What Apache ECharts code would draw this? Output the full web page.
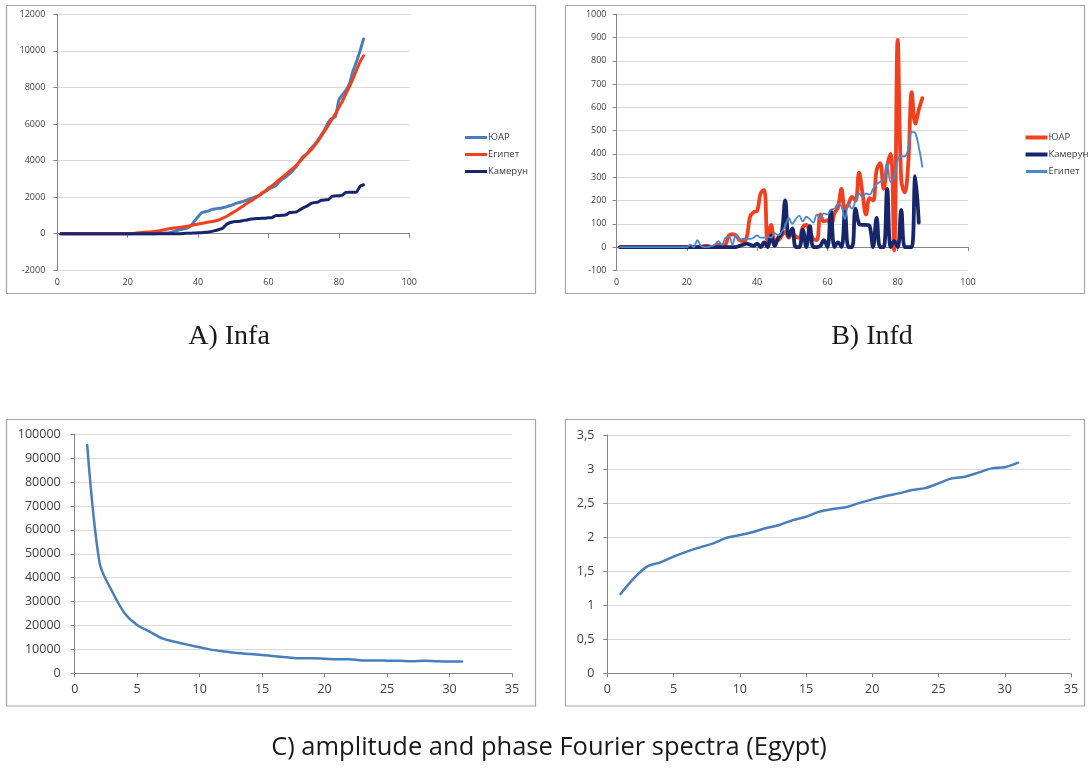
<!DOCTYPE html>
<html><head><meta charset="utf-8">
<script src="https://cdn.jsdelivr.net/npm/echarts@6/dist/echarts.min.js"></script>
<style>html,body{margin:0;padding:0;background:#fff}#c{width:1090px;height:769px}</style>
</head><body><div id="c"></div>
<script>
// ---------- DATA ----------
const days = [];
for (let d = 1; d <= 87; d++) days.push(d);

// A) Infa: cumulative infections
const infaSA = [0,0,0,0,0,0,0,0,0,0,0,0,0,0,0,0,0,0,0,0,0,0,0,0,0,0,0,
  5,10,20,40,60,120,180,230,270,320,450,700,930,1150,1200,1250,1330,1360,1390,1420,
  1470,1530,1600,1670,1720,1780,1850,1930,2000,2060,2180,2300,2420,2530,2620,2830,
  3000,3120,3280,3480,3700,4000,4250,4400,4650,4850,5100,5400,5700,6100,6300,6400,
  7300,7600,7850,8200,8900,9400,10000,10650];
const infaEG = [0,0,0,0,0,0,0,0,0,0,0,0,0,0,0,0,0,0,0,0,
  5,20,50,70,85,95,105,130,160,200,
  250,280,310,330,360,385,410,450,490,530,
  560,600,640,670,710,760,850,940,1050,1170,
  1290,1420,1540,1680,1790,1920,2050,2200,2340,2490,
  2630,2780,2950,3100,3260,3420,3590,3760,3970,4180,
  4380,4560,4800,5050,5340,5640,5930,6250,6550,6900,
  7250,7650,8050,8480,8950,9400,9730];
const infaCM = [0,0,0,0,0,0,0,0,0,0,0,0,0,0,0,0,0,0,0,0,0,0,0,0,0,0,0,0,0,0,0,0,0,0,
  5,15,25,30,40,50,
  60,75,95,130,180,230,300,500,600,660,
  670,680,730,750,800,820,830,840,850,870,
  880,990,1000,1010,1030,1160,1170,1200,1320,1430,
  1520,1650,1700,1730,1830,1850,1860,2050,2070,2080,
  2110,2260,2270,2270,2280,2590,2680];

// B) Infd: daily new infections
const infdSA = [0,0,0,0,0,0,0,0,0,0,0,0,0,0,0,0,0,0,0,0,
  0,0,0,0,5,5,0,5,10,5,
  10,50,55,50,30,25,40,130,150,155,
  230,245,20,95,30,30,50,65,40,60,
  45,40,85,95,65,35,30,140,110,115,
  90,145,170,250,160,185,215,200,320,230,
  140,210,200,330,360,250,350,400,-15,890,
  290,235,360,665,530,590,640];
const infdCM = [0,0,0,0,0,0,0,0,0,0,0,0,0,0,0,0,0,0,0,0,
  0,0,0,0,0,0,0,0,0,0,
  0,0,0,0,5,10,15,10,5,15,
  0,20,0,50,5,40,60,200,45,80,
  0,0,75,0,90,0,0,5,30,0,
  155,0,20,0,150,0,0,165,100,95,
  95,90,0,125,0,0,250,0,25,0,
  160,0,0,0,305,105];
const infdEG = [0,0,0,0,0,0,0,0,0,0,0,0,0,0,0,0,0,0,0,0,
  10,0,30,5,0,0,5,10,25,10,
  40,45,10,55,30,35,35,35,40,50,
  40,40,45,40,60,50,65,90,125,100,
  120,135,110,130,120,105,140,120,145,140,
  160,165,185,175,120,185,165,200,230,215,
  230,225,250,270,280,290,360,280,300,375,
  390,390,420,495,490,430,345];

// C) Fourier spectra (Egypt)
const harmonics = [1,2,3,4,5,6,7,8,9,10,11,12,13,14,15,16,17,18,19,20,21,22,23,24,25,26,27,28,29,30,31];
const amplitude = [95500,46000,34200,25100,20200,17400,14600,13200,12000,10900,9800,9100,8500,8100,7700,
  7100,6700,6300,6300,6100,5900,5900,5400,5400,5300,5200,5000,5300,5000,4900,4900];
const phase = [1.165,1.395,1.566,1.63,1.713,1.787,1.85,1.909,1.99,2.03,2.075,2.134,2.178,2.25,2.30,
  2.374,2.413,2.44,2.50,2.555,2.604,2.643,2.692,2.72,2.79,2.863,2.888,2.947,3.01,3.025,3.093];

const legendA = ['ЮАР','Египет','Камерун'];
const legendB = ['ЮАР','Камерун','Египет'];
const captionA = 'A) Infa';
const captionB = 'B) Infd';
const captionC = 'C) amplitude and phase Fourier spectra (Egypt)';

// ---------- STYLE ----------
const FONT = '"Open Sans", sans-serif';
const LBL = '#404040';
const AXC = '#868686';
const GRID = '#D9D9D9';
const cBlue = '#4A7EBB', cRed = '#F2401E', cNavy = '#17256B', cBlue2 = '#4A88CB';

const pairs = (xs, ys) => ys.map((v, i) => [xs[i], v]);
const plain = v => String(v);
const comma = v => String(v).replace('.', ',');

function xAx(idx, min, max, interval, fs, margin) {
  return { gridIndex: idx, type: 'value', min, max, interval,
    axisLine: { onZero: true, lineStyle: { color: AXC, width: 1 } },
    axisTick: { show: true, length: 4, lineStyle: { color: AXC } },
    splitLine: { show: false },
    axisLabel: { color: LBL, fontFamily: FONT, fontSize: fs, margin, formatter: plain } };
}
function yAx(idx, min, max, interval, fs, margin, fmt) {
  return { gridIndex: idx, type: 'value', min, max, interval,
    axisLine: { show: true, lineStyle: { color: AXC, width: 1 } },
    axisTick: { show: true, length: 4, lineStyle: { color: AXC } },
    splitLine: { show: true, lineStyle: { color: GRID, width: 1 } },
    axisLabel: { color: LBL, fontFamily: FONT, fontSize: fs, margin, formatter: fmt || plain } };
}
function line(name, xi, data, color, width, smooth) {
  return { name, type: 'line', xAxisIndex: xi, yAxisIndex: xi, data,
    showSymbol: false, symbol: 'none', smooth,
    lineStyle: { color, width, cap: 'round', join: 'round' }, itemStyle: { color } };
}

const option = {
  animation: false,
  backgroundColor: '#fff',
  grid: [
    { left: 57.3, top: 14.3, width: 352, height: 256 },
    { left: 616.5, top: 14.3, width: 351.5, height: 256 },
    { left: 74.7, top: 434.3, width: 437.3, height: 239 },
    { left: 607.3, top: 435, width: 463.7, height: 238.3 }
  ],
  xAxis: [
    xAx(0, 0, 100, 20, 9, 8),
    xAx(1, 0, 100, 20, 9, 8),
    xAx(2, 0, 35, 5, 12.5, 10),
    xAx(3, 0, 35, 5, 12.5, 10)
  ],
  yAxis: [
    yAx(0, -2000, 12000, 2000, 9, 12),
    yAx(1, -100, 1000, 100, 9, 10),
    yAx(2, 0, 100000, 10000, 12.5, 14),
    yAx(3, 0, 3.5, 0.5, 12.5, 13, comma)
  ],
  legend: [
    { orient: 'vertical', left: 460, top: 127, icon: 'rect', itemWidth: 22, itemHeight: 3, itemGap: 6,
      textStyle: { fontFamily: FONT, fontSize: 9.5, color: LBL, lineHeight: 11, padding: [0,0,0,-4] },
      selectedMode: false,
      data: [
        { name: legendA[0], itemStyle: { color: cBlue } },
        { name: legendA[1], itemStyle: { color: cRed } },
        { name: legendA[2], itemStyle: { color: cNavy } }
      ] },
    { orient: 'vertical', left: 1020, top: 127, icon: 'rect', itemWidth: 22, itemHeight: 4, itemGap: 6,
      textStyle: { fontFamily: FONT, fontSize: 9.5, color: LBL, lineHeight: 11, padding: [0,0,0,-4] },
      selectedMode: false,
      data: [
        { name: legendB[0], itemStyle: { color: cRed } },
        { name: legendB[1], itemStyle: { color: cNavy } },
        { name: legendB[2], itemStyle: { color: cBlue2, borderColor: '#fff', borderWidth: 1 } }
      ] }
  ],
  series: [
    line(legendA[0], 0, pairs(days, infaSA), cBlue, 3, 0.2),
    line(legendA[1], 0, pairs(days, infaEG), cRed, 3, 0.2),
    line(legendA[2], 0, pairs(days, infaCM), cNavy, 3, 0.2),
    line(legendB[0], 1, pairs(days, infdSA), cRed, 3.8, 0.4),
    line(legendB[1], 1, pairs(days, infdCM), cNavy, 3.8, 0.4),
    line(legendB[2], 1, pairs(days, infdEG), cBlue2, 1.8, 0.4),
    line('amplitude', 2, pairs(harmonics, amplitude), cBlue, 2.5, 0.3),
    line('phase', 3, pairs(harmonics, phase), cBlue, 2.5, 0.3)
  ],
  graphic: [
    { type: 'rect', shape: { x: 6.5, y: 5.5, width: 529, height: 288 }, style: { fill: 'none', stroke: '#A6A6A6', lineWidth: 1.2 }, silent: true },
    { type: 'rect', shape: { x: 565.5, y: 5.5, width: 519, height: 288 }, style: { fill: 'none', stroke: '#A6A6A6', lineWidth: 1.2 }, silent: true },
    { type: 'rect', shape: { x: 6.5, y: 419.5, width: 529, height: 286.5 }, style: { fill: 'none', stroke: '#A6A6A6', lineWidth: 1.2 }, silent: true },
    { type: 'rect', shape: { x: 565.5, y: 419.5, width: 519, height: 286.5 }, style: { fill: 'none', stroke: '#A6A6A6', lineWidth: 1.2 }, silent: true },
    { type: 'text', style: { text: captionA, x: 229, y: 337, font: '28px "Liberation Serif", serif', fill: '#1a1a1a', textAlign: 'center', textVerticalAlign: 'middle' }, silent: true },
    { type: 'text', style: { text: captionB, x: 872, y: 337, font: '28px "Liberation Serif", serif', fill: '#1a1a1a', textAlign: 'center', textVerticalAlign: 'middle' }, silent: true },
    { type: 'text', style: { text: captionC, x: 549, y: 748, font: '25.5px "Open Sans", sans-serif', fill: '#1a1a1a', textAlign: 'center', textVerticalAlign: 'middle' }, silent: true }
  ]
};
echarts.init(document.getElementById('c'), null, { renderer: 'canvas' }).setOption(option);
</script>
</body></html>
